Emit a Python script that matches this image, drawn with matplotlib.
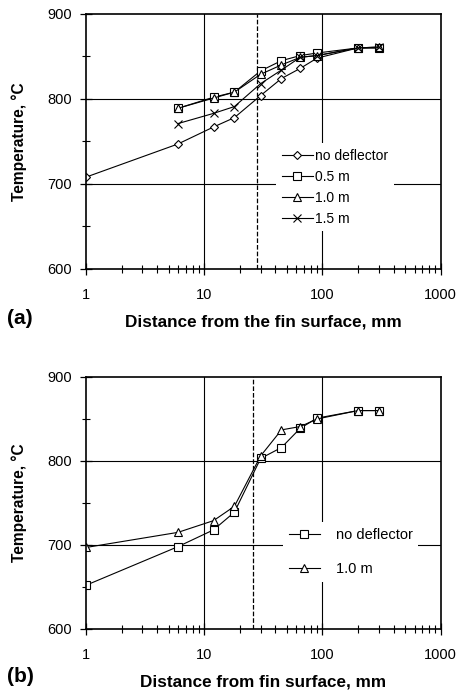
import matplotlib.pyplot as plt
from matplotlib.ticker import LogLocator, FixedLocator, NullFormatter

plt.rcParams['font.family'] = ['Liberation Sans', 'DejaVu Sans']

# (a) temperatura vs distancia, varias posiciones del deflector
x_a = [1, 6, 12, 18, 30, 45, 65, 90, 200, 300]
t_sin = [708, 747, 767, 778, 804, 824, 836, 848, 860, 860]
x_b5 = [6, 12, 18, 30, 45, 65, 90, 200, 300]
t_05 = [789, 802, 808, 833, 845, 851, 854, 860, 860]
t_10 = [789, 801, 808, 829, 840, 849, 851, 860, 861]
t_15 = [771, 783, 791, 818, 834, 849, 851, 860, 861]

# (b) sin deflector vs 1.0 m
x_b = [1, 6, 12, 18, 30, 45, 65, 90, 200, 300]
tb_sin = [652, 698, 718, 739, 803, 816, 839, 851, 860, 860]
tb_10 = [697, 715, 729, 746, 806, 837, 841, 850, 860, 860]

corte_a = 28
corte_b = 26


def estilo(ax, xlabel, corte):
    ax.set_xscale('log')
    ax.set_xlim(1, 1000)
    ax.set_ylim(600, 900)
    ax.xaxis.set_major_locator(FixedLocator([1, 10, 100, 1000]))
    ax.xaxis.set_minor_locator(LogLocator(base=10, subs=range(2, 10)))
    ax.xaxis.set_minor_formatter(NullFormatter())
    ax.set_xticklabels(['1', '10', '100', '1000'])
    ax.set_yticks([600, 700, 800, 900])
    ax.set_yticks([650, 750, 850], minor=True)
    ax.tick_params(which='major', direction='inout', length=8, width=0.9, labelsize=10.5, pad=6)
    ax.tick_params(which='minor', direction='inout', length=6, width=0.8)
    ax.tick_params(axis='x', which='major', pad=10)
    for s in ax.spines.values():
        s.set_linewidth(1.2)
    for v in [10, 100]:
        ax.axvline(v, color='k', lw=0.8, zorder=0)
    for h in [700, 800]:
        ax.axhline(h, color='k', lw=0.8, zorder=0)
    ax.axvline(corte, color='k', lw=0.9, ls='--', zorder=1)
    ax.set_ylabel('Temperature, °C', fontsize=11.2, fontweight='bold', labelpad=15)
    ax.set_xlabel(xlabel, fontsize=12.3, fontweight='bold', labelpad=9)


fig = plt.figure(figsize=(4.62, 6.95), dpi=100)
ax1 = fig.add_axes([0.186, 0.613, 0.768, 0.367])
ax2 = fig.add_axes([0.186, 0.095, 0.768, 0.3626])

mk = dict(color='k', lw=0.8, mfc='white', mec='k', mew=0.8)
ax1.plot(x_a, t_sin, marker='D', ms=4, label='no deflector', **mk)
ax1.plot(x_b5, t_05, marker='s', ms=6, label='0.5 m', **mk)
ax1.plot(x_b5, t_10, marker='^', ms=6, label='1.0 m', **mk)
ax1.plot(x_b5, t_15, marker='x', ms=6, label='1.5 m', **mk)
estilo(ax1, 'Distance from the fin surface, mm', corte_a)
ley1 = ax1.legend(loc='center left', bbox_to_anchor=(0.537, 0.32), fontsize=10, frameon=True,
                  handlelength=2.2, handletextpad=0.2, labelspacing=0.5, borderaxespad=0)
ley1.get_frame().set_edgecolor('none')
ley1.get_frame().set_facecolor('white')
ley1.get_frame().set_alpha(1)

ax2.plot(x_b, tb_sin, marker='s', ms=6, label='no deflector', **mk)
ax2.plot(x_b, tb_10, marker='^', ms=6, label='1.0 m', **mk)
estilo(ax2, 'Distance from fin surface, mm', corte_b)
ley2 = ax2.legend(loc='center left', bbox_to_anchor=(0.556, 0.305), fontsize=10.5, frameon=True,
                  handlelength=2.1, handletextpad=1.1, labelspacing=1.4, borderaxespad=0)
ley2.get_frame().set_edgecolor('none')
ley2.get_frame().set_facecolor('white')
ley2.get_frame().set_alpha(1)

fig.text(0.015, 1 - 318 / 695, '(a)', fontsize=15, fontweight='bold', va='center')
fig.text(0.015, 1 - 676 / 695, '(b)', fontsize=15, fontweight='bold', va='center')

fig.savefig('out.png', dpi=100)
